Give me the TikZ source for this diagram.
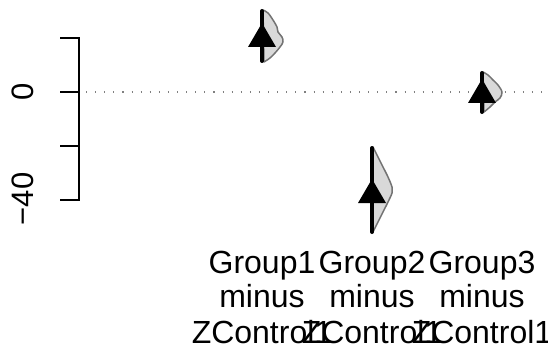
\documentclass[tikz,border=0pt]{standalone}
\usepackage{fontspec}
\setmainfont{Liberation Sans}
\begin{document}
\begin{tikzpicture}[x=1pt,y=-1pt,
  lbl/.style={font=\fontsize{32}{38}\selectfont, anchor=base, inner sep=0pt},
  ylbl/.style={font=\fontsize{31}{36}\selectfont, anchor=base, inner sep=0pt, rotate=90},
  violin/.style={fill=gray!30, draw=gray!90!black, line width=1.5pt, line join=round},
  ci/.style={line width=4pt, line cap=round},
  axisline/.style={line width=1.3pt, line cap=rect},
  zeroline/.style={gray, line width=1.1pt, dash pattern=on 1.1pt off 8pt}
]
\useasboundingbox (0,0) rectangle (548,350);
% zero reference line
\coordinate (z0) at (86,92);
\coordinate (z1) at (548,92);
\draw[zeroline] (z0) -- (z1);
% y axis
\coordinate (atop) at (79,38);
\coordinate (abot) at (79,200);
\draw[axisline] (atop) -- (abot);
\foreach \yy in {38,92,146,200}{
  \draw[line width=1.3pt] (60,\yy) -- (79,\yy);
}
\node[ylbl] (y0) at (33,92) {0};
\node[ylbl] (y40) at (33,199) {−40};
% Group 1
\draw[violin] plot[smooth, tension=0.55] coordinates {(263,10) (268,13) (273,20) (277,27) (278,32) (282,37) (283,42) (280,47) (275,53) (270,58) (264,62)} -- cycle;
\coordinate (c1t) at (262,11);
\coordinate (c1b) at (262,61);
\draw[ci] (c1t) -- (c1b);
\fill (248,47) -- (276,47) -- (262,23) -- cycle;
% Group 2
\draw[violin] plot[smooth, tension=0.55] coordinates {(373,147) (378,157) (383,167) (388,177) (392,187) (392,193) (388,202) (383,212) (378,222) (373,232)} -- cycle;
\coordinate (c2t) at (372,148);
\coordinate (c2b) at (372,232);
\draw[ci] (c2t) -- (c2b);
\fill (358,203) -- (386,203) -- (372,179) -- cycle;
% Group 3
\draw[violin] plot[smooth, tension=0.55] coordinates {(483,72) (488,75) (493,80) (498,85) (502,92) (500,98) (495,102) (490,107) (484,112)} -- cycle;
\coordinate (c3t) at (482,73);
\coordinate (c3b) at (482,112);
\draw[ci] (c3t) -- (c3b);
\fill (468,103) -- (496,103) -- (482,79) -- cycle;
% x labels
\node[lbl] (g1a) at (262,273) {Group1};
\node[lbl] (g1b) at (262,307) {minus};
\node[lbl] (g1c) at (262,343) {ZControl1};
\node[lbl] (g2a) at (372,273) {Group2};
\node[lbl] (g2b) at (372,307) {minus};
\node[lbl] (g2c) at (372,343) {ZControl1};
\node[lbl] (g3a) at (482,273) {Group3};
\node[lbl] (g3b) at (482,307) {minus};
\node[lbl] (g3c) at (482,343) {ZControl1};
\end{tikzpicture}
\end{document}
